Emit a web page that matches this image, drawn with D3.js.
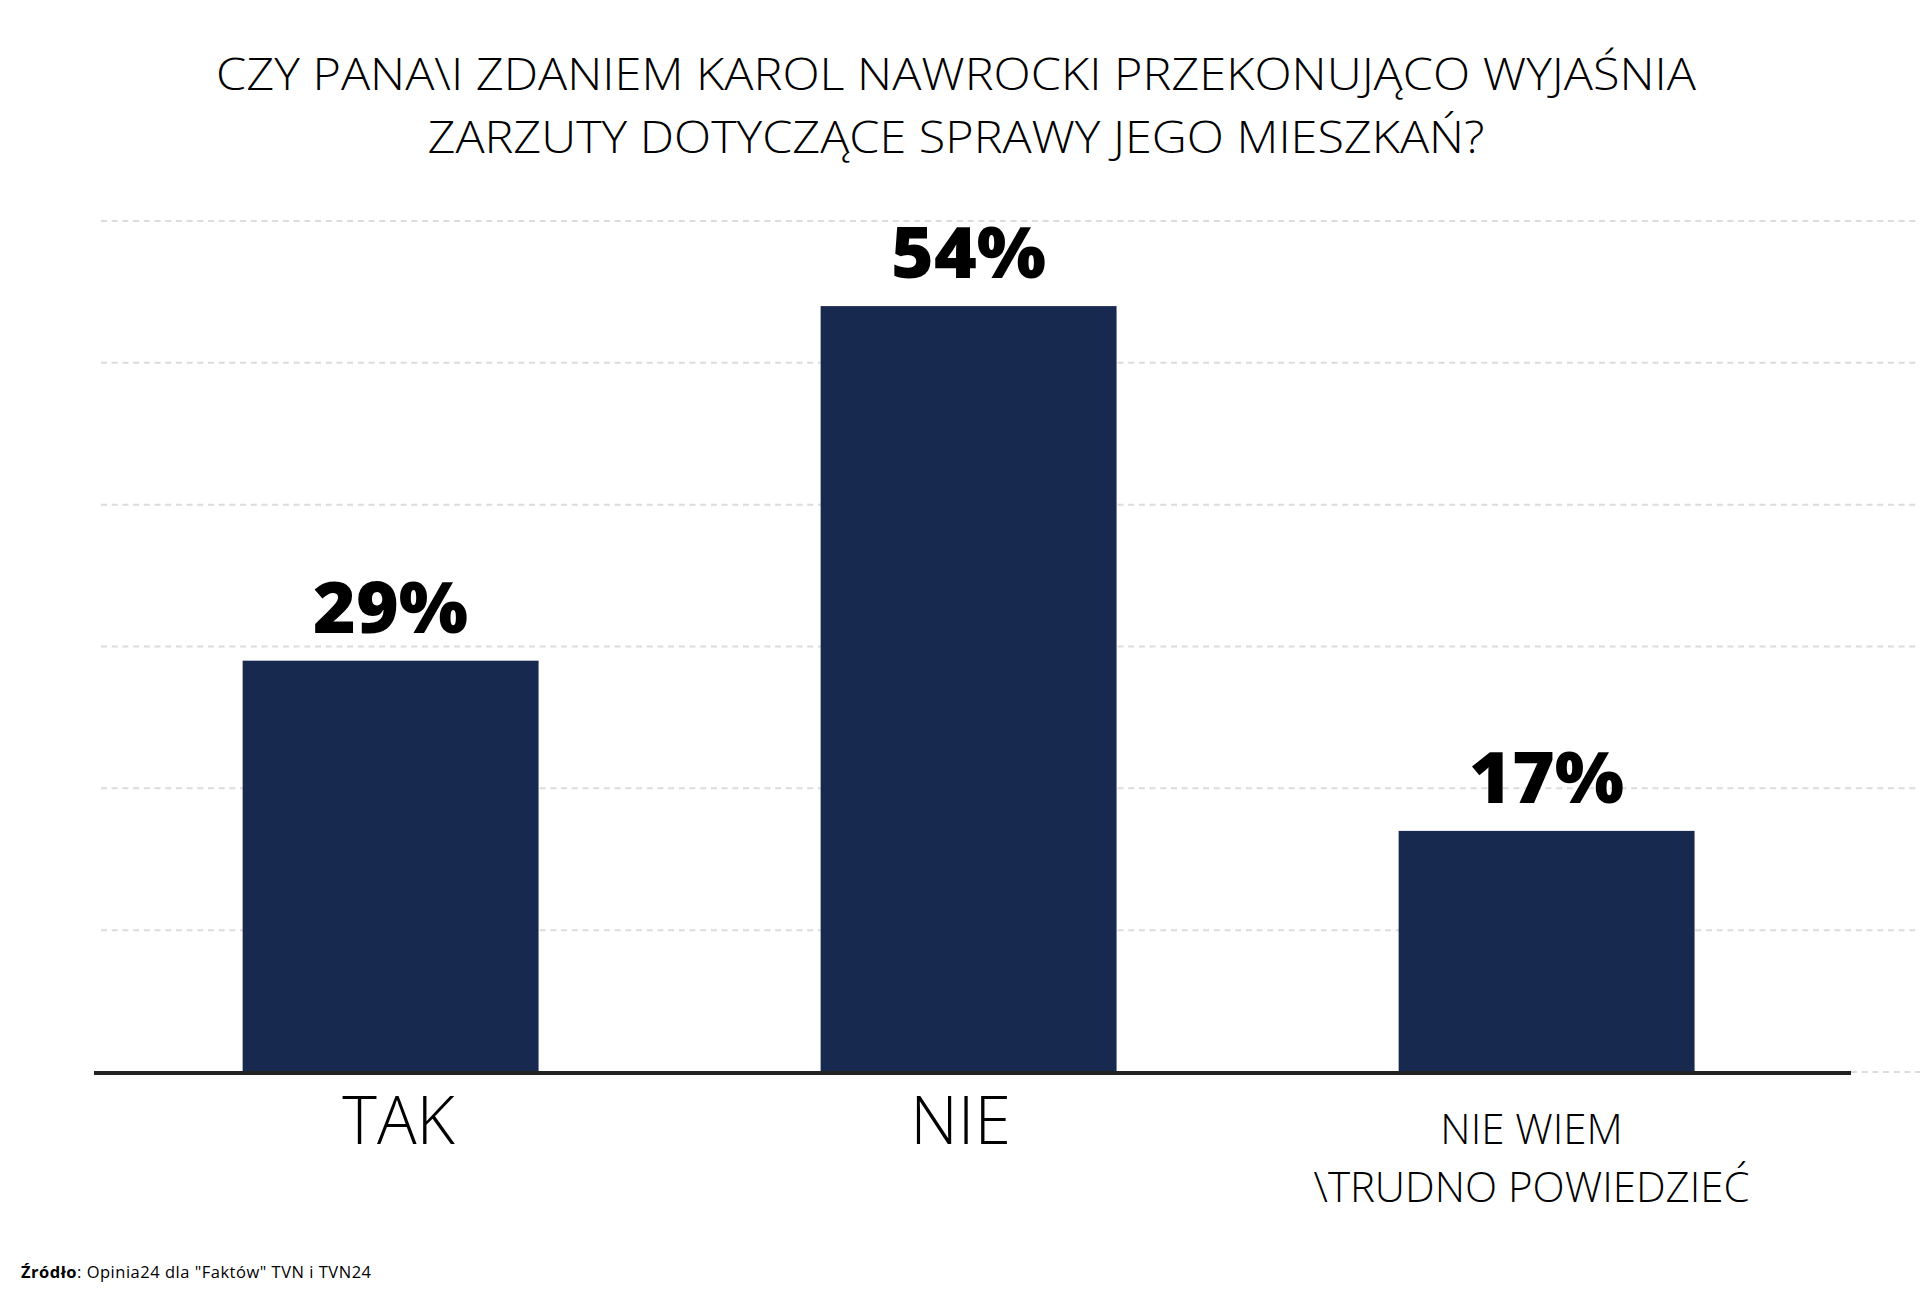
<!DOCTYPE html>
<html>
<head>
<meta charset="utf-8">
<script src="https://cdn.jsdelivr.net/npm/d3@7"></script>
<style>
  body { margin: 0; background: #fff; }
  text { font-family: "Open Sans", sans-serif; }
</style>
</head>
<body>
<svg id="chart" width="1920" height="1297"></svg>
<script>
var titleLines = ["CZY PANA\\I ZDANIEM KAROL NAWROCKI PRZEKONUJĄCO WYJAŚNIA", "ZARZUTY DOTYCZĄCE SPRAWY JEGO MIESZKAŃ?"];
var categories = ["TAK", "NIE", "NIE WIEM\n\\TRUDNO POWIEDZIEĆ"];
var values = [29, 54, 17];
var yTicks = [0, 10, 20, 30, 40, 50, 60];

var svg = d3.select("#chart");
var W = 1920, H = 1297;

svg.append("rect").attr("width", W).attr("height", H).attr("fill", "#fff");

var x = d3.scaleBand().domain(categories).range([101.6, 1835.6]).paddingInner(0.488).paddingOuter(0.244);
var y = d3.scaleLinear().domain([0, 60]).range([1072, 221]);

// gridlines
svg.append("g").selectAll("line").data(yTicks.slice(1)).enter().append("line")
  .attr("x1", 101).attr("x2", W)
  .attr("y1", function(d){ return y(d); }).attr("y2", function(d){ return y(d); })
  .attr("stroke", "#dcdcdc").attr("stroke-width", 2).attr("stroke-dasharray", "6,4.7");

svg.append("line").attr("x1", 1851).attr("x2", W).attr("y1", y(0)).attr("y2", y(0))
  .attr("stroke", "#dcdcdc").attr("stroke-width", 2).attr("stroke-dasharray", "6,4.7");

// bars
svg.append("g").selectAll("rect").data(values).enter().append("rect")
  .attr("x", function(d, i){ return x(categories[i]); })
  .attr("width", x.bandwidth())
  .attr("y", function(d){ return y(d); })
  .attr("height", function(d){ return y(0) - y(d); })
  .attr("fill", "#17294f");

// axis line
svg.append("line").attr("x1", 94).attr("x2", 1851).attr("y1", y(0) + 1).attr("y2", y(0) + 1)
  .attr("stroke", "#222").attr("stroke-width", 4);

// value labels
svg.append("g").selectAll("text").data(values).enter().append("text")
  .attr("x", function(d, i){ return x(categories[i]) + x.bandwidth() / 2; })
  .attr("y", function(d){ return y(d) - 28; })
  .attr("text-anchor", "middle")
  .attr("font-size", 71).attr("font-weight", 800).attr("fill", "#000")
  .attr("textLength", 155).attr("lengthAdjust", "spacingAndGlyphs")
  .text(function(d){ return d + "%"; });

// category labels
categories.forEach(function(c, i){
  var lines = c.split("\n");
  var cx = x(c) + x.bandwidth() / 2;
  var t = svg.append("text").attr("text-anchor", "middle").attr("font-weight", 300).attr("fill", "#000");
  if (lines.length === 1) {
    t.attr("x", i === 0 ? cx + 8 : cx - 8).attr("y", 1144).attr("font-size", 66).text(c);
  } else {
    t.attr("font-size", 42);
    lines.forEach(function(l, j){
      t.append("tspan").attr("x", cx - 15).attr("y", 1144 + j * 58).text(l);
    });
  }
});

// title
var titleWidths = [1480, 1057];
svg.append("g").selectAll("text").data(titleLines).enter().append("text")
  .attr("x", 956).attr("y", function(d, i){ return 90 + i * 63; })
  .attr("text-anchor", "middle").attr("font-size", 45).attr("font-weight", 300).attr("fill", "#000")
  .attr("textLength", function(d, i){ return titleWidths[i]; }).attr("lengthAdjust", "spacingAndGlyphs")
  .text(function(d){ return d; });

// source
var src = svg.append("text").attr("x", 21).attr("y", 1278).attr("font-size", 16.5).attr("fill", "#000")
  .attr("textLength", 350);
src.append("tspan").attr("font-weight", 700).text("Źródło");
src.append("tspan").text(": Opinia24 dla \"Faktów\" TVN i TVN24");
</script>
</body>
</html>
